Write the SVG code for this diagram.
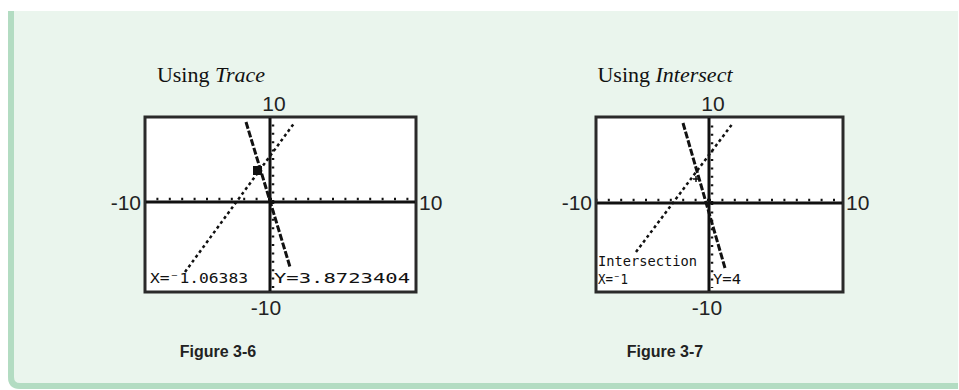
<svg xmlns="http://www.w3.org/2000/svg" width="959" height="390" viewBox="0 0 959 390">
<style>
.ttl{font-family:"Liberation Serif",serif;font-size:22px;fill:#111}
.ax{font-family:"Liberation Sans",Arial,sans-serif;font-size:21px;fill:#222}
.fig{font-family:"Liberation Sans",Arial,sans-serif;font-size:16px;font-weight:bold;fill:#222}
.scr{fill:#fff;stroke:#2a2a2a;stroke-width:3}
.axis{stroke:#111;stroke-width:3;fill:none}
.tick{stroke:#111;stroke-width:2.5;fill:none}
.steep{stroke:#111;stroke-width:3;stroke-dasharray:7 2;fill:none}
.dot{stroke:#111;stroke-width:2.5;stroke-dasharray:3 3;fill:none}
.ti{font-family:"DejaVu Sans Mono",monospace;font-size:14px;fill:#111}
</style>
<path d="M8 11 H958 V389 H20 Q8 389 8 377 Z" fill="#eaf5ed"/>
<path d="M11 11 V377 Q11 386 20 386 H958" fill="none" stroke="#b3dcc2" stroke-width="6"/>

<g id="screen1">
<text class="ttl" x="211" y="82" text-anchor="middle">Using <tspan font-style="italic">Trace</tspan></text>
<rect class="scr" x="145" y="117" width="271" height="175"/>
<text class="ax" x="274" y="111" text-anchor="middle">10</text>
<text class="ax" x="141" y="210" text-anchor="end">-10</text>
<text class="ax" x="419" y="210">10</text>
<text class="ax" x="266" y="315" text-anchor="middle">-10</text>
<g id="axes1">
<line class="axis" x1="146" y1="202" x2="415" y2="202"/>
<line class="axis" x1="270" y1="118" x2="270" y2="291"/>
<line class="tick" x1="270" y1="199" x2="146" y2="199" stroke-dasharray="2 10.4"/>
<line class="tick" x1="270" y1="199" x2="415" y2="199" stroke-dasharray="2 10.4"/>
<line class="tick" x1="273" y1="202" x2="273" y2="120" stroke-dasharray="2 6.4"/>
<line class="tick" x1="273" y1="202" x2="273" y2="288" stroke-dasharray="2 6.4"/>
</g>
<line class="steep" x1="246" y1="122" x2="290" y2="267"/>
<line class="dot" x1="185" y1="272" x2="295" y2="122"/>
<path d="M253 166 h9 v9 h-9 z" fill="#111"/>
<text class="ti" x="150" y="283" textLength="98" lengthAdjust="spacingAndGlyphs">X=⁻1.06383</text>
<text class="ti" x="274" y="283" textLength="136" lengthAdjust="spacingAndGlyphs">Y=3.8723404</text>
<text class="fig" x="218" y="357" text-anchor="middle">Figure 3-6</text>
</g>

<g id="screen2">
<text class="ttl" x="665" y="82" text-anchor="middle">Using <tspan font-style="italic">Intersect</tspan></text>
<rect class="scr" x="596" y="117" width="247" height="175"/>
<text class="ax" x="713" y="111" text-anchor="middle">10</text>
<text class="ax" x="592" y="210" text-anchor="end">-10</text>
<text class="ax" x="846" y="210">10</text>
<text class="ax" x="707" y="315" text-anchor="middle">-10</text>
<g id="axes2">
<line class="axis" x1="597" y1="203" x2="842" y2="203"/>
<line class="axis" x1="709" y1="118" x2="709" y2="291"/>
<line class="tick" x1="709" y1="200" x2="597" y2="200" stroke-dasharray="2 10.4"/>
<line class="tick" x1="709" y1="200" x2="842" y2="200" stroke-dasharray="2 10.4"/>
<line class="tick" x1="712" y1="203" x2="712" y2="120" stroke-dasharray="2 6.4"/>
<line class="tick" x1="712" y1="203" x2="712" y2="288" stroke-dasharray="2 6.4"/>
</g>
<line class="steep" x1="683" y1="123" x2="725" y2="268"/>
<line class="dot" x1="636" y1="252" x2="733" y2="123"/>
<path d="M696 176 v6 M693 179 h6" stroke="#111" stroke-width="1.5"/>
<text class="ti" x="598" y="266" textLength="99" lengthAdjust="spacingAndGlyphs">Intersection</text>
<text class="ti" x="598" y="284" textLength="30" lengthAdjust="spacingAndGlyphs">X=⁻1</text>
<text class="ti" x="713" y="284" textLength="28" lengthAdjust="spacingAndGlyphs">Y=4</text>
<text class="fig" x="665" y="357" text-anchor="middle">Figure 3-7</text>
</g>
</svg>
